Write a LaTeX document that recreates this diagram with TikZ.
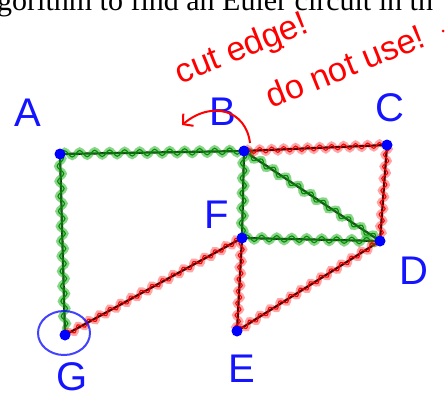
\documentclass[tikz,border=0pt]{standalone}
\usepackage{fontspec}
\setmainfont{Liberation Serif}
\newfontfamily\handfont{Liberation Sans}
\usetikzlibrary{decorations.pathmorphing,arrows.meta}
\definecolor{inkblue}{RGB}{20,20,255}
\definecolor{inkred}{RGB}{255,0,0}
\definecolor{inkgreen}{RGB}{0,140,0}
\definecolor{glowgreen}{RGB}{40,180,40}
\tikzset{
  vtx/.style={circle,fill=blue,inner sep=0pt,minimum size=11pt},
  baseedge/.style={line width=2.2pt,black},
  gglow/.style={draw=glowgreen,opacity=0.55,line width=6pt,decorate,decoration={snake,amplitude=3.2pt,segment length=15pt}},
  gline/.style={draw=inkgreen,line width=1.1pt,decorate,decoration={snake,amplitude=3.2pt,segment length=15pt}},
  rglow/.style={draw=inkred,opacity=0.35,line width=6pt,decorate,decoration={snake,amplitude=2.8pt,segment length=12pt}},
  rline/.style={draw=inkred,line width=1.1pt,decorate,decoration={snake,amplitude=2.8pt,segment length=12pt}},
  lbl/.style={text=inkblue,font=\handfont\fontsize{40}{40}\selectfont,inner sep=0pt},
  hand/.style={text=inkred,font=\handfont\fontsize{34}{34}\selectfont,inner sep=0pt},
}
\begin{document}
\begin{tikzpicture}[x=1pt,y=-1pt]
\useasboundingbox[fill=white] (0,0) rectangle (446,405);
\node[anchor=base west,inner sep=0pt,font=\fontsize{30}{30}\selectfont] (hdr) at (-3,10) {gorithm to find an Euler circuit in th};
% vertices
\coordinate (A) at (60,154);
\coordinate (B) at (244,151);
\coordinate (C) at (387,145);
\coordinate (F) at (242,238);
\coordinate (D) at (380,241);
\coordinate (G) at (65,335);
\coordinate (E) at (237,331);
% black edges
\foreach \u/\v in {A/B,A/G,B/F,B/D,F/D,B/C,C/D,F/G,F/E,E/D}{\draw[baseedge] (\u)--(\v);}
% green highlights
\foreach \u/\v in {A/B,A/G,B/F,B/D,F/D}{\path[gglow] (\u)--(\v); \path[gline] (\u)--(\v);}
% red highlights
\foreach \u/\v in {B/C,C/D,G/F,E/F,E/D}{\path[rglow] (\u)--(\v); \path[rline] (\u)--(\v);}
% vertex dots
\foreach \v in {A,B,C,F,D,G,E}{\node[vtx] (d\v) at (\v) {};}
% labels
\node[lbl] (lA) at (28,113) {A};
\node[lbl] (lB) at (223,112) {B};
\node[lbl] (lC) at (390,108) {C};
\node[lbl] (lF) at (217,215) {F};
\node[lbl] (lD) at (414,271) {D};
\node[lbl] (lG) at (72,377) {G};
\node[lbl] (lE) at (242,369) {E};
\draw[inkblue,line width=2pt,opacity=0.8] (64,333) ellipse [x radius=26pt,y radius=22pt];
% annotation
\node[hand,rotate=22] (cut) at (242,50) {cut edge!};
\node[hand,rotate=22] (dnu) at (345,66) {do not use!};
\coordinate (arrS) at (250,143);
\coordinate (arrT) at (182,125);
\draw[inkred,line width=2pt,-{Straight Barb[length=7pt,width=16pt]}] (arrS) .. controls (246,110) and (212,100) .. (arrT);
\fill[inkred] (283,47) circle (1.5pt);
\fill[inkred] (443,31) circle (1.5pt);
\end{tikzpicture}
\end{document}
